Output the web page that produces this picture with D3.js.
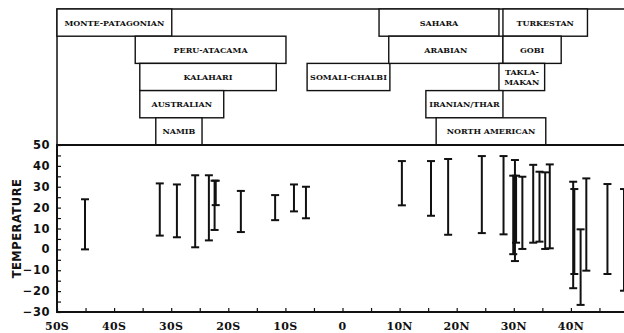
<!DOCTYPE html>
<html>
<head>
<meta charset="utf-8">
<script src="https://cdn.jsdelivr.net/npm/d3@7"></script>
<style>
  body { margin: 0; background: #fff; }
  text { fill: #111; }
  .box-label { font-family: "DejaVu Serif", serif; font-weight: bold; font-size: 8px; }
  .x-label { font-family: "DejaVu Serif", serif; font-weight: bold; font-size: 11px; letter-spacing: 0.3px; }
  .y-label { font-family: "DejaVu Sans", sans-serif; font-weight: bold; font-size: 11.5px; letter-spacing: 0.5px; }
</style>
</head>
<body>
<div id="chart"></div>
<script>
// Desert regions: name, south edge, north edge (latitude, S negative), row in top panel
var deserts = [
    ["MONTE-PATAGONIAN", -50, -29.9, 0],
    ["PERU-ATACAMA", -36.3, -9.9, 1],
    ["KALAHARI", -35.5, -11.6, 2],
    ["AUSTRALIAN", -35.5, -20.8, 3],
    ["NAMIB", -32.7, -24.6, 4],
    ["SOMALI-CHALBI", -6.2, 8.3, 2],
    ["SAHARA", 6.4, 27.4, 0],
    ["TURKESTAN", 28.1, 42.9, 0],
    ["ARABIAN", 8.1, 28.1, 1],
    ["GOBI", 28.1, 38.3, 1],
    ["TAKLA-|MAKAN", 27.4, 35.4, 2],
    ["IRANIAN/THAR", 14.6, 28.1, 3],
    ["NORTH AMERICAN", 16.4, 35.6, 4]
];

// Temperature ranges at stations: latitude, min, max
var stationLat = [-45.1, -32, -29, -25.8, -23.4, -22.4, -22.2, -17.8, -11.8, -8.5, -6.4,
                  10.4, 15.5, 18.5, 24.4, 28.2, 30.2, 29.9, 30.4, 31.5, 33.4, 34.5, 35.5, 36.3,
                  40.4, 40.6, 41.7, 42.7, 46.4, 49.3];
var stationMin = [0, 6.6, 5.8, 1.0, 4.3, 9.3, 21.2, 8.3, 14, 18.2, 14.9,
                  21.1, 16.1, 7.0, 7.8, 7.2, -5.6, -2.3, 3.2, 0.2, 3.2, 3.7, 0.2, 0.5,
                  -18.6, -11.8, -26.6, -10.2, -11.8, -19.8];
var stationMax = [24, 31.6, 31.1, 35.5, 35.5, 32.9, 32.9, 28, 26, 31.1, 30,
                  42.3, 42.3, 43.3, 44.7, 44.7, 42.8, 35.3, 35.3, 34.8, 40.5, 37.2, 36.9, 40.7,
                  32.4, 28.9, 9.6, 34.0, 31.3, 28.9];

var xTickValues = [-50, -40, -30, -20, -10, 0, 10, 20, 30, 40];
var yTickValues = [50, 40, 30, 20, 10, 0, -10, -20, -30];

function latLabel(d) {
    if (d === 0) return "0";
    return Math.abs(d) + (d < 0 ? "S" : "N");
}

var svgWidth = 624;
var svgHeight = 333;

var svg = d3.select("#chart")
            .append("svg")
            .attr("width", svgWidth)
            .attr("height", svgHeight);

// Scales
var xScale = d3.scaleLinear().domain([-50, 50]).range([57, 628]);
var yScale = d3.scaleLinear().domain([-30, 50]).range([312, 145]);
var rowScale = d3.scaleBand().domain([0, 1, 2, 3, 4]).range([9, 145]);

var ink = "#111";

// Top panel frame
svg.append("rect")
   .attr("x", xScale(-50))
   .attr("y", rowScale(0))
   .attr("width", xScale(50) - xScale(-50))
   .attr("height", yScale(50) - rowScale(0))
   .attr("fill", "none")
   .attr("stroke", ink)
   .attr("stroke-width", 1.5);

// Desert boxes
var boxes = svg.append("g").selectAll("g")
    .data(deserts)
    .enter()
    .append("g");

boxes.append("rect")
     .attr("x", d => xScale(d[1]))
     .attr("y", d => rowScale(d[3]))
     .attr("width", d => xScale(d[2]) - xScale(d[1]))
     .attr("height", rowScale.bandwidth())
     .attr("fill", "#fff")
     .attr("stroke", ink)
     .attr("stroke-width", 1.4);

boxes.each(function(d) {
    var lines = d[0].split("|");
    var cx = (xScale(d[1]) + xScale(d[2])) / 2;
    var cy = rowScale(d[3]) + rowScale.bandwidth() / 2;
    var t = d3.select(this).append("text")
        .attr("class", "box-label")
        .attr("text-anchor", "middle")
        .attr("x", cx);
    lines.forEach(function(line, i) {
        t.append("tspan")
         .attr("x", cx)
         .attr("y", cy + 3 + (i - (lines.length - 1) / 2) * 10)
         .text(line);
    });
});

// Lower plot frame
svg.append("rect")
   .attr("x", xScale(-50))
   .attr("y", yScale(50))
   .attr("width", xScale(50) - xScale(-50))
   .attr("height", yScale(-30) - yScale(50))
   .attr("fill", "none")
   .attr("stroke", ink)
   .attr("stroke-width", 2);

// Left axis (ticks inward)
var leftAxis = d3.axisLeft(yScale)
    .tickValues(d3.range(-30, 51, 5))
    .tickSize(-4)
    .tickFormat("");
svg.append("g")
   .attr("transform", `translate(${xScale(-50)},0)`)
   .call(leftAxis)
   .call(g => g.select(".domain").remove())
   .call(g => g.selectAll(".tick line").attr("stroke", ink).attr("stroke-width", 1.2));

svg.append("g").selectAll("text")
   .data(yTickValues)
   .enter()
   .append("text")
   .attr("class", "y-label")
   .attr("text-anchor", "end")
   .attr("x", 50)
   .attr("y", d => yScale(d) + 4)
   .text(d => d === 0 ? "0" : (d < 0 ? "\u2212" + Math.abs(d) : d));

// Bottom axis (ticks inward)
var bottomAxis = d3.axisBottom(xScale)
    .tickValues(d3.range(-50, 51, 5))
    .tickSize(-4)
    .tickFormat("");
svg.append("g")
   .attr("transform", `translate(0,${yScale(-30)})`)
   .call(bottomAxis)
   .call(g => g.select(".domain").remove())
   .call(g => g.selectAll(".tick line").attr("stroke", ink).attr("stroke-width", 1.2));

svg.append("g").selectAll("text")
   .data(xTickValues)
   .enter()
   .append("text")
   .attr("class", "x-label")
   .attr("text-anchor", "middle")
   .attr("x", d => xScale(d))
   .attr("y", 330)
   .text(latLabel);

// Y axis title
svg.append("text")
   .attr("class", "y-label")
   .attr("font-size", "10.5px")
   .attr("text-anchor", "middle")
   .attr("transform", `translate(21,${yScale(10)}) rotate(-90)`)
   .text("TEMPERATURE");

// Error bars
var bars = svg.append("g")
    .attr("stroke", ink)
    .attr("stroke-width", 2)
    .selectAll("g")
    .data(stationLat.map((d, i) => ({ lat: d, lo: stationMin[i], hi: stationMax[i] })))
    .enter()
    .append("g");

bars.append("line")
    .attr("x1", d => xScale(d.lat))
    .attr("x2", d => xScale(d.lat))
    .attr("y1", d => yScale(d.lo))
    .attr("y2", d => yScale(d.hi));

bars.append("line")
    .attr("x1", d => xScale(d.lat) - 4)
    .attr("x2", d => xScale(d.lat) + 4)
    .attr("y1", d => yScale(d.hi))
    .attr("y2", d => yScale(d.hi));

bars.append("line")
    .attr("x1", d => xScale(d.lat) - 4)
    .attr("x2", d => xScale(d.lat) + 4)
    .attr("y1", d => yScale(d.lo))
    .attr("y2", d => yScale(d.lo));
</script>
</body>
</html>
